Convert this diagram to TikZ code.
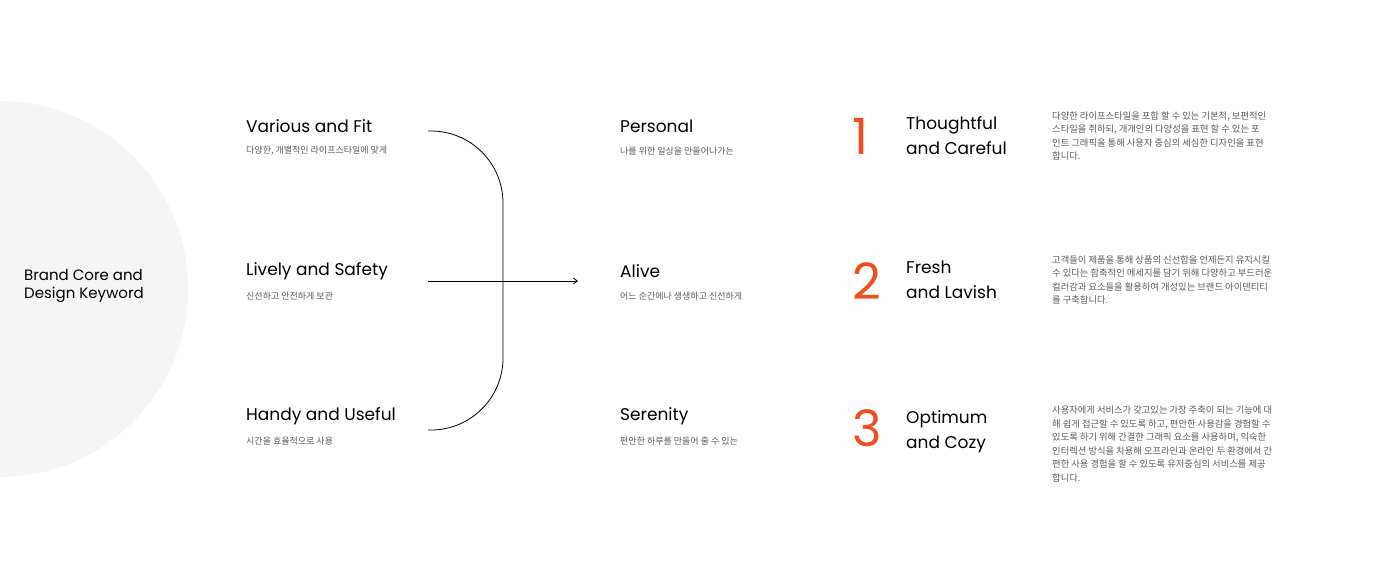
\documentclass[tikz,border=0pt]{standalone}
\usepackage{fontspec}
\setmainfont{Poppins}
\newfontfamily\kofont{Noto Sans CJK KR}
\usetikzlibrary{positioning,arrows.meta}

\definecolor{brandorange}{HTML}{F04E1E}
\definecolor{circlegray}{HTML}{F5F5F5}
\definecolor{subgray}{HTML}{5A5A5A}

\begin{document}
\begin{tikzpicture}[
			x=1pt, y=-1pt,
			>={Straight Barb[length=4pt,width=6pt]},
			every node/.style={
				inner sep=0pt,
				anchor=west,
				align=left
			},
			keyword/.style={font=\fontsize{17}{25}\selectfont},
			subline/.style={font=\kofont\fontsize{9}{12}\selectfont, text=subgray},
			bignum/.style={font=\fontsize{50}{50}\selectfont, text=brandorange},
			desc/.style={font=\kofont\fontsize{9.3}{13.5}\selectfont, text=subgray}
			]
			
			\useasboundingbox[fill=white] (0,0) rectangle (1400,587);
			
			%%%%%%%%%%%%%%%%%%%%%%%%%%%%%%%%%%%%%%%%%%%%%%%%%%%%%%%%%%%%
			% Core Circle
			%%%%%%%%%%%%%%%%%%%%%%%%%%%%%%%%%%%%%%%%%%%%%%%%%%%%%%%%%%%%
			
			\fill[circlegray] (0,289) circle (188);
			
			\node (core) [font=\fontsize{15}{18}\selectfont] at (24,286)
			{Brand Core and\\Design Keyword};
			
			%%%%%%%%%%%%%%%%%%%%%%%%%%%%%%%%%%%%%%%%%%%%%%%%%%%%%%%%%%%%
			% Left Column
			%%%%%%%%%%%%%%%%%%%%%%%%%%%%%%%%%%%%%%%%%%%%%%%%%%%%%%%%%%%%
			
			\node (various) [keyword] at (246,126) {Various and Fit};
			\node (variousko) [subline] at (246,151) {다양한, 개별적인 라이프스타일에 맞게};
			
			\node (lively) [keyword] at (246,271) {Lively and Safety};
			\node (livelyko) [subline] at (246,296) {신선하고 안전하게 보관};
			
			\node (handy) [keyword] at (246,416) {Handy and Useful};
			\node (handyko) [subline] at (246,441) {시간을 효율적으로 사용};
			
			%%%%%%%%%%%%%%%%%%%%%%%%%%%%%%%%%%%%%%%%%%%%%%%%%%%%%%%%%%%%
			% Middle Column
			%%%%%%%%%%%%%%%%%%%%%%%%%%%%%%%%%%%%%%%%%%%%%%%%%%%%%%%%%%%%
			
			\node (personal) [keyword] at (620,126) {Personal};
			\node (personalko) [subline] at (620,151) {나를 위한 일상을 만들어나가는};
			
			\node (alive) [keyword] at (620,271) {Alive};
			\node (aliveko) [subline] at (620,296) {어느 순간에나 생생하고 신선하게};
			
			\node (serenity) [keyword] at (620,416) {Serenity};
			\node (serenityko) [subline] at (620,441) {편안한 하루를 만들어 줄 수 있는};
			
			%%%%%%%%%%%%%%%%%%%%%%%%%%%%%%%%%%%%%%%%%%%%%%%%%%%%%%%%%%%%
			% Right Column
			%%%%%%%%%%%%%%%%%%%%%%%%%%%%%%%%%%%%%%%%%%%%%%%%%%%%%%%%%%%%
			
			\node (num1) [bignum] at (852,136) {1};
			\node (title1) [keyword] at (906,136) {Thoughtful\\and Careful};
			\node (desc1) [desc] at (1052,136)
			{다양한 라이프스타일을 포함 할 수 있는 기본적, 보편적인\\
			스타일을 취하되, 개개인의 다양성을 표현 할 수 있는 포\\
			인트 그래픽을 통해 사용자 중심의 세심한 디자인을 표현\\
			합니다.};
			
			\node (num2) [bignum] at (852,281) {2};
			\node (title2) [keyword] at (906,280) {Fresh\\and Lavish};
			\node (desc2) [desc] at (1052,280)
			{고객들이 제품을 통해 상품의 신선함을 언제든지 유지시킬\\
			수 있다는 함축적인 메세지를 담기 위해 다양하고 부드러운\\
			컬러감과 요소들을 활용하여 개성있는 브랜드 아이덴티티\\
			를 구축합니다.};
			
			\node (num3) [bignum] at (852,428) {3};
			\node (title3) [keyword] at (906,432) {Optimum\\and Cozy};
			\node (desc3) [desc] at (1052,444)
			{사용자에게 서비스가 갖고있는 가장 주축이 되는 기능에 대\\
			해 쉽게 접근할 수 있도록 하고, 편안한 사용감을 경험할 수\\
			있도록 하기 위해 간결한 그래픽 요소를 사용하며, 익숙한\\
			인터렉션 방식을 차용해 오프라인과 온라인 두 환경에서 간\\
			편한 사용 경험을 할 수 있도록 유저중심의 서비스를 제공\\
			합니다.};
			
			%%%%%%%%%%%%%%%%%%%%%%%%%%%%%%%%%%%%%%%%%%%%%%%%%%%%%%%%%%%%
			% Connections
			%%%%%%%%%%%%%%%%%%%%%%%%%%%%%%%%%%%%%%%%%%%%%%%%%%%%%%%%%%%%
			
			\coordinate (brtop) at (428,131);
			\coordinate (brbot) at (428,430);
			\coordinate (brin) at (428,281);
			\coordinate (brout) at (578,281);
			
			% bracket
			
			\draw[line width=0.8pt,rounded corners=72pt]
			(brtop) -- (503,131) -- (503,430) -- (brbot);
			
			% arrow to keywords
			
			\draw[->,line width=0.8pt] (brin) -- (brout);
			
			%%%%%%%%%%%%%%%%%%%%%%%%%%%%%%%%%%%%%%%%%%%%%%%%%%%%%%%%%%%%
			
		\end{tikzpicture}
\end{document}
